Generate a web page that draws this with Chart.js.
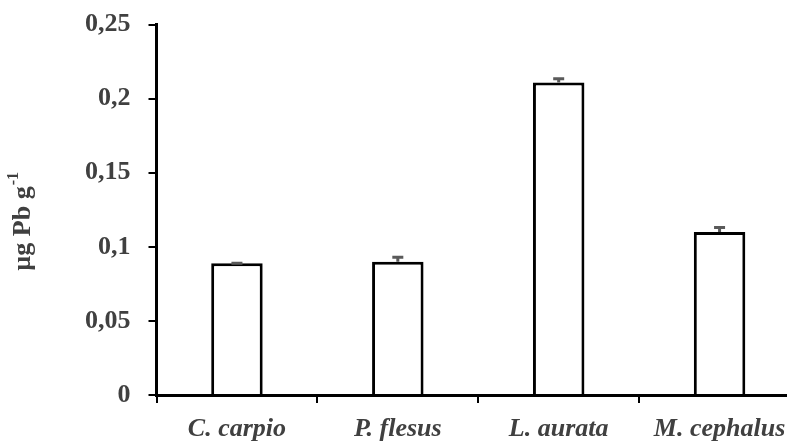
<!DOCTYPE html>
<html>
<head>
<meta charset="utf-8">
<script src="https://cdn.jsdelivr.net/npm/chart.js@4/dist/chart.umd.min.js"></script>
<style>
  html, body { margin: 0; padding: 0; background: #fff; overflow: hidden; }
  #wrap { position: absolute; left: 0; top: -9px; }
</style>
</head>
<body>
<div id="wrap"><canvas id="chart" width="810" height="464"></canvas></div>
<script>
// data
const species   = ['C. carpio', 'P. flesus', 'L. aurata', 'M. cephalus'];
const leadMeans = [0.089, 0.090, 0.211, 0.110];
const leadErr   = [0.001, 0.004, 0.0035, 0.004];
const yTicks    = [0, 0.05, 0.1, 0.15, 0.2, 0.25];

const textColor = '#404040';
const serif = '"Liberation Serif", "Times New Roman", serif';

// error bars (upper half only, like the original)
const errorBars = {
  id: 'errorBars',
  afterDatasetsDraw(chart) {
    const ctx = chart.ctx;
    const y = chart.scales.y;
    const meta = chart.getDatasetMeta(0);
    ctx.save();
    ctx.strokeStyle = '#5a5a5a';
    ctx.lineWidth = 3;
    meta.data.forEach((bar, i) => {
      const top = y.getPixelForValue(leadMeans[i] + leadErr[i]);
      const base = y.getPixelForValue(leadMeans[i]);
      ctx.beginPath();
      ctx.moveTo(bar.x, base);
      ctx.lineTo(bar.x, top + 1.5);
      ctx.moveTo(bar.x - 5.5, top + 1.5);
      ctx.lineTo(bar.x + 5.5, top + 1.5);
      ctx.stroke();
    });
    ctx.restore();
  }
};

// rotated y title with superscript
const yTitle = {
  id: 'yTitle',
  afterDraw(chart) {
    const ctx = chart.ctx;
    const area = chart.chartArea;
    const main = 'µg Pb g';
    const sup = '-1';
    ctx.save();
    ctx.fillStyle = textColor;
    ctx.translate(22, (area.top + area.bottom) / 2 + 12);
    ctx.rotate(-Math.PI / 2);
    ctx.font = 'bold 26px ' + serif;
    const w1 = ctx.measureText(main).width;
    ctx.font = 'bold 16px ' + serif;
    const w2 = ctx.measureText(sup).width;
    const start = -(w1 + w2) / 2;
    ctx.textBaseline = 'alphabetic';
    ctx.font = 'bold 26px ' + serif;
    ctx.fillText(main, start, 8);
    ctx.font = 'bold 16px ' + serif;
    ctx.fillText(sup, start + w1 + 1, -4);
    ctx.restore();
  }
};

new Chart(document.getElementById('chart'), {
  type: 'bar',
  data: {
    labels: species,
    datasets: [{
      data: leadMeans,
      backgroundColor: '#ffffff',
      borderColor: '#000000',
      borderWidth: 3,
      borderSkipped: 'start',
      barPercentage: 0.32,
      categoryPercentage: 1
    }]
  },
  options: {
    responsive: false,
    animation: false,
    layout: { padding: { left: 67, right: 10, top: 1, bottom: 0 } },
    plugins: {
      legend: { display: false },
      tooltip: { enabled: false }
    },
    scales: {
      x: {
        grid: {
          display: true,
          drawOnChartArea: false,
          color: '#000',
          lineWidth: 2,
          tickLength: 8
        },
        border: { display: true, color: '#000', width: 3 },
        ticks: {
          color: textColor,
          padding: 13,
          font: { family: serif, size: 26, weight: 'bold', style: 'italic', lineHeight: 1 }
        }
      },
      y: {
        min: 0,
        max: 0.25,
        afterBuildTicks(scale) {
          scale.ticks = yTicks.map(v => ({ value: v }));
        },
        grid: {
          display: true,
          drawOnChartArea: false,
          color: '#000',
          lineWidth: 2,
          tickLength: 8
        },
        border: { display: true, color: '#000', width: 3 },
        ticks: {
          color: textColor,
          padding: 18,
          font: { family: serif, size: 26, weight: 'bold' },
          callback: v => String(v).replace('.', ',')
        }
      }
    }
  },
  plugins: [errorBars, yTitle]
});
</script>
</body>
</html>
